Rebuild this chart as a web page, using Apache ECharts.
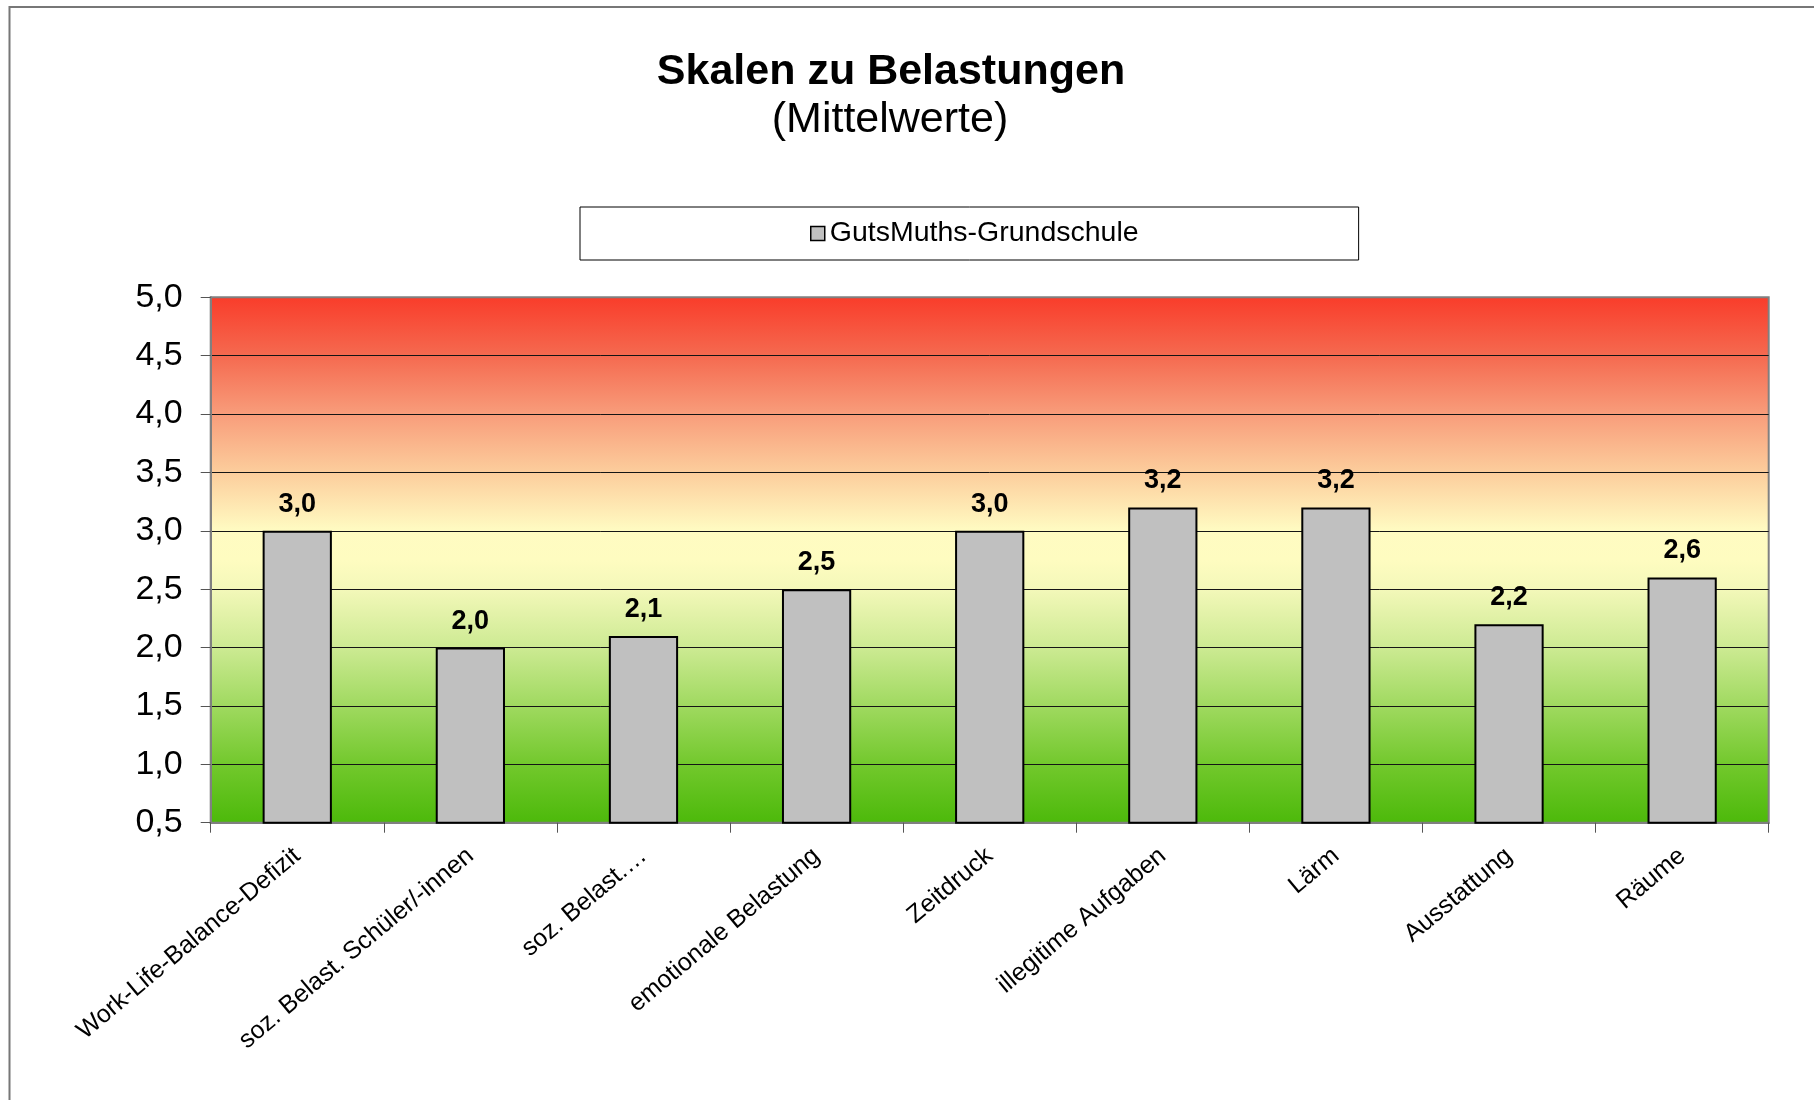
<!DOCTYPE html>
<html>
<head>
<meta charset="utf-8">
<script src="https://cdn.jsdelivr.net/npm/echarts@6/dist/echarts.min.js"></script>
<style>
html,body{margin:0;padding:0;background:#fff;}
#chart{width:1814px;height:1100px;}
</style>
</head>
<body>
<div id="chart"></div>
<script>
const titleText = 'Skalen zu Belastungen';
const subtitleText = '(Mittelwerte)';
const seriesName = 'GutsMuths-Grundschule';
const categories = ['Work-Life-Balance-Defizit', 'soz. Belast. Schüler/-innen', 'soz. Belast.…', 'emotionale Belastung', 'Zeitdruck', 'illegitime Aufgaben', 'Lärm', 'Ausstattung', 'Räume'];
const values = [3.0, 2.0, 2.1, 2.5, 3.0, 3.2, 3.2, 2.2, 2.6];
const yMin = 0.5, yMax = 5.0, yStep = 0.5;

const FONT = '"Liberation Sans", Arial, sans-serif';
const comma = v => Number(v).toFixed(1).replace('.', ',');

const chart = echarts.init(document.getElementById('chart'), null, {renderer: 'canvas'});

const splitColors = [];
for (let i = 0; i < 9; i++) splitColors.push('#151515');
splitColors.push('#808080');

chart.setOption({
  backgroundColor: '#ffffff',
  animation: false,
  graphic: [{
    type: 'rect',
    shape: {x: 9.5, y: 7, width: 2000, height: 2000},
    style: {fill: 'none', stroke: '#777777', lineWidth: 2},
    silent: true
  }],
  title: [{
    text: titleText,
    left: 891, top: 51, padding: 0, textAlign: 'center',
    textStyle: {fontFamily: FONT, fontSize: 43, fontWeight: 'bold', color: '#000'}
  }, {
    text: subtitleText,
    left: 890, top: 99, padding: 0, textAlign: 'center',
    textStyle: {fontFamily: FONT, fontSize: 43, fontWeight: 'normal', color: '#000'}
  }],
  legend: {
    left: 580, top: 207,
    padding: [12, 220, 12, 230],
    backgroundColor: '#fff',
    borderColor: '#000', borderWidth: 1,
    itemWidth: 14, itemHeight: 14,
    icon: 'rect',
    itemStyle: {color: '#C0C0C0', borderColor: '#000', borderWidth: 1.5},
    textStyle: {fontFamily: FONT, fontSize: 28.5, color: '#000'},
    data: [seriesName]
  },
  grid: {
    left: 210.7, right: 45.3, top: 297.3, bottom: 277.3,
    show: true,
    borderColor: '#808080', borderWidth: 2,
    backgroundColor: new echarts.graphic.LinearGradient(0, 0, 0, 1, [
      {offset: 0, color: '#F93C2A'},
      {offset: 0.111, color: '#F5694F'},
      {offset: 0.222, color: '#F89C7A'},
      {offset: 0.333, color: '#FCCD9C'},
      {offset: 0.444, color: '#FFFBC2'},
      {offset: 0.5, color: '#FEFCC0'},
      {offset: 0.556, color: '#F3F8B9'},
      {offset: 0.667, color: '#CCEA92'},
      {offset: 0.778, color: '#9FD95F'},
      {offset: 0.889, color: '#72C82C'},
      {offset: 1, color: '#4CB90A'}
    ])
  },
  xAxis: {
    type: 'category',
    data: categories,
    boundaryGap: true,
    axisLine: {show: true, lineStyle: {color: '#808080', width: 2}},
    axisTick: {show: true, interval: 0, alignWithLabel: false, length: 10, lineStyle: {color: '#555', width: 1}},
    axisLabel: {interval: 0, rotate: 40, margin: 30, fontFamily: FONT, fontSize: 25, color: '#000'},
    splitLine: {show: false}
  },
  yAxis: {
    type: 'value',
    min: yMin, max: yMax, interval: yStep,
    axisLine: {show: true, lineStyle: {color: '#808080', width: 2}},
    axisTick: {show: true, length: 10, lineStyle: {color: '#555', width: 1}},
    axisLabel: {margin: 28, fontFamily: FONT, fontSize: 34, color: '#000', formatter: comma},
    splitLine: {show: true, lineStyle: {color: splitColors, width: 1}}
  },
  series: [{
    name: seriesName,
    type: 'bar',
    data: values,
    barWidth: '40%',
    itemStyle: {color: '#C0C0C0', borderColor: '#000', borderWidth: 2},
    label: {
      show: true, position: 'top', distance: 13,
      fontFamily: FONT, fontSize: 27, fontWeight: 'bold', color: '#000',
      formatter: p => comma(p.value)
    }
  }]
});
</script>
</body>
</html>
